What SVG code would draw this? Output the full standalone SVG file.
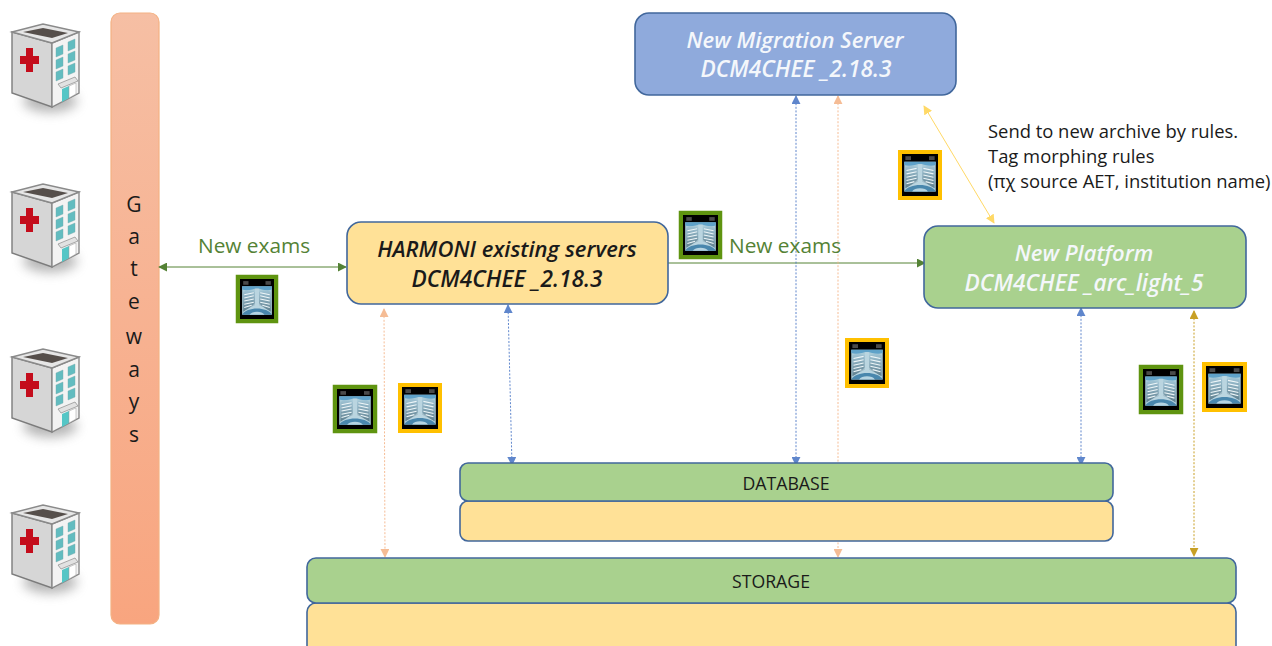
<svg xmlns="http://www.w3.org/2000/svg" width="1272" height="646" viewBox="0 0 1272 646">
<style>
text{font-family:"Open Sans","Noto Sans","Liberation Sans",sans-serif;fill:#1a1a1a}
.box{stroke:#41679c;stroke-width:1.6}
.g{fill:#a9d18e}.y{fill:#ffe197}
.title{font-size:22px;font-style:italic;font-weight:600;text-anchor:middle}
.dcm{font-size:22.7px}
text.w{fill:#f4f7fb}
.lab{font-size:17.7px;text-anchor:middle}
text.ne{font-size:20.8px;fill:#548235}
.note{font-size:18.4px}
.l{fill:none;stroke-width:1}
.d{stroke-dasharray:2 1.6;opacity:.85}
</style>
<defs>
<linearGradient id="gw" x1="0" y1="0" x2="0" y2="1"><stop offset="0" stop-color="#f6bfa4"/><stop offset="1" stop-color="#f8a57f"/></linearGradient>
<filter id="soft" x="-10%" y="-10%" width="120%" height="120%"><feGaussianBlur stdDeviation="0.45"/></filter>
<filter id="shb" x="-40%" y="-60%" width="180%" height="220%"><feGaussianBlur stdDeviation="6"/></filter>
<linearGradient id="lung" x1="0" y1="0" x2="0" y2="1"><stop offset="0" stop-color="#9fc3d4"/><stop offset="1" stop-color="#5e7f8e"/></linearGradient>
<marker id="ab" viewBox="0 0 10 10" refX="9" refY="5" markerWidth="9" markerHeight="9" markerUnits="userSpaceOnUse" orient="auto-start-reverse"><path d="M0 0L10 5L0 10z" fill="#4472c4"/></marker>
<marker id="ao" viewBox="0 0 10 10" refX="9" refY="5" markerWidth="9" markerHeight="9" markerUnits="userSpaceOnUse" orient="auto-start-reverse"><path d="M0 0L10 5L0 10z" fill="#f4b183"/></marker>
<marker id="ag" viewBox="0 0 10 10" refX="9" refY="5" markerWidth="9" markerHeight="9" markerUnits="userSpaceOnUse" orient="auto-start-reverse"><path d="M0 0L10 5L0 10z" fill="#548235"/></marker>
<marker id="ad" viewBox="0 0 10 10" refX="9" refY="5" markerWidth="9" markerHeight="9" markerUnits="userSpaceOnUse" orient="auto-start-reverse"><path d="M0 0L10 5L0 10z" fill="#bf9000"/></marker>
<marker id="ay" viewBox="0 0 10 10" refX="9" refY="5" markerWidth="9" markerHeight="9" markerUnits="userSpaceOnUse" orient="auto-start-reverse"><path d="M0 0L10 5L0 10z" fill="#ffd966"/></marker>
<symbol id="hospital" width="100" height="125" viewBox="0 0 100 125">
<ellipse cx="50" cy="101" rx="27" ry="11" fill="#777" opacity=".55" filter="url(#shb)"/>
<g filter="url(#soft)">
<path d="M12 32L52 43V107L12 93z" fill="#d6d6d6" stroke="#7c7c7c" stroke-width="1.4"/>
<path d="M52 43L79 32V93L52 107z" fill="#f3f3f3" stroke="#8a8a8a" stroke-width="1.4"/>
<path d="M12 32L43 24L79 32L52 43z" fill="#e6e6e6" stroke="#8a8a8a" stroke-width="1.4"/>
<path d="M23 32L43 28L68 33L52 38z" fill="#57504c"/>
<path d="M26 48h7v8h6v8h-6v8h-7v-8h-6v-8h6z" fill="#c4101a"/>
<g fill="#62bcc0" stroke="#7aa" stroke-width=".4">
<path d="M56 48l7-3v9l-7 3zM68 42l7-3v9l-7 3zM56 60l7-3v9l-7 3zM68 54l7-3v9l-7 3zM56 72l7-3v9l-7 3zM68 66l7-3v9l-7 3z"/>
</g>
<path d="M58 84l17-7 3 4-17 7z" fill="#e2e2e2" stroke="#8a8a8a" stroke-width=".7"/>
<path d="M62 89l7-3v12l-7 4z" fill="#55c6c6"/>
<path d="M69 86l7-3v11l-7 4z" fill="#fff" stroke="#999" stroke-width=".5"/>
</g>
</symbol>
<symbol id="xray" viewBox="0 0 32 38" preserveAspectRatio="none">
<rect width="32" height="38" fill="#000"/>
<g filter="url(#soft)">
<rect x="2" y="7" width="28" height="27" fill="#a9cbd8"/>
<path d="M2 7H30V10C24 12 20 9 16 9S8 12 2 10z" fill="#5fa2c9"/>
<path d="M3 12C7 10 11 11 14 12V25C10 27 6 29 3 31zM29 12C25 10 21 11 18 12V25C22 27 26 29 29 31z" fill="url(#lung)"/>
<g stroke="#eef6f8" stroke-width="1" fill="none"><path d="M4 15l9-2M4 18l9-2M4 21l9-2M4 24l9-2M4 27l7-2M28 15l-9-2M28 18l-9-2M28 21l-9-2M28 24l-9-2M28 27l-7-2"/></g>
<path d="M14 9h4v14c3 3 6 5 10 8H4c4-3 7-5 10-8z" fill="#c8dfe7" opacity=".55"/>
<path d="M2 34C6 26 26 26 30 34z" fill="#4a87ad"/>
<path d="M9 34C11 30 21 30 23 34z" fill="#b5d4e2"/>
</g>
<rect x="3" y="2" width="5" height="3.5" fill="#4a4a4a"/><rect x="24" y="2" width="5" height="3.5" fill="#4a4a4a"/>
</symbol>
</defs>

<g id="hospital-1"><use href="#hospital" x="0" y="0"/></g>
<g id="hospital-2"><use href="#hospital" x="0" y="160"/></g>
<g id="hospital-3"><use href="#hospital" x="0" y="325"/></g>
<g id="hospital-4"><use href="#hospital" x="0" y="481"/></g>

<g id="gateways">
<rect x="111" y="13" width="48" height="611" rx="9" fill="url(#gw)" stroke="#f4b183" stroke-width="1.2"/>
<g font-size="21" text-anchor="middle"><text x="134" y="212">G</text><text x="134" y="244">a</text><text x="134" y="276">t</text><text x="134" y="309">e</text><text x="134" y="344">w</text><text x="134" y="377">a</text><text x="134" y="409">y</text><text x="134" y="442">s</text></g>
</g>

<g id="connectors">
<path class="l" stroke="#548235" marker-start="url(#ag)" marker-end="url(#ag)" d="M159 267H346"/>
<path class="l" stroke="#548235" marker-end="url(#ag)" d="M668 263H925"/>
<path class="l d" stroke="#f4b183" marker-start="url(#ao)" marker-end="url(#ao)" d="M384 309L385 557"/>
<path class="l d" stroke="#4472c4" marker-start="url(#ab)" marker-end="url(#ab)" d="M508 305L512 465"/>
<path class="l d" stroke="#4472c4" marker-start="url(#ab)" marker-end="url(#ab)" d="M796 96V465"/>
<path class="l d" stroke="#f4b183" marker-start="url(#ao)" marker-end="url(#ao)" d="M838 96V557"/>
<path class="l d" stroke="#4472c4" marker-start="url(#ab)" marker-end="url(#ab)" d="M1081 308V465"/>
<path class="l d" stroke="#bf9000" marker-start="url(#ad)" marker-end="url(#ad)" d="M1194 311V556"/>
<path class="l" stroke="#ffd966" marker-start="url(#ay)" marker-end="url(#ay)" d="M924 106L994 223"/>
</g>

<g id="migration-server">
<rect class="box" x="635" y="13" width="321" height="82" rx="14" fill="#8faadc"/>
<text class="title w" x="795" y="48">New Migration Server</text>
<text class="title w dcm" x="796" y="77">DCM4CHEE _2.18.3</text>
</g>
<g id="harmoni">
<rect class="box y" x="347" y="222" width="321" height="82" rx="14"/>
<text class="title" x="507" y="257">HARMONI existing servers</text>
<text class="title dcm" x="507" y="287">DCM4CHEE _2.18.3</text>
</g>
<g id="new-platform">
<rect class="box g" x="924" y="226" width="322" height="82" rx="14"/>
<text class="title w" x="1084" y="261">New Platform</text>
<text class="title w dcm" x="1084" y="291">DCM4CHEE _arc_light_5</text>
</g>
<g id="database">
<rect class="box y" x="460" y="501" width="653" height="40" rx="8"/>
<rect class="box g" x="460" y="463" width="653" height="38" rx="8"/>
<text class="lab" x="786" y="490">DATABASE</text>
</g>
<g id="storage">
<rect class="box y" x="307" y="603" width="929" height="60" rx="9"/>
<rect class="box g" x="307" y="558" width="929" height="45" rx="9"/>
<text class="lab" x="771" y="588">STORAGE</text>
</g>

<g id="labels">
<text class="ne" x="198" y="253">New exams</text>
<text class="ne" x="729" y="253">New exams</text>
<text class="note" x="988" y="138">Send to new archive by rules.</text>
<text class="note" x="988" y="163">Tag morphing rules</text>
<text class="note" x="988" y="188">(πχ source AET, institution name)</text>
</g>

<g id="xrays">
<g fill="none" stroke="#5f9410" stroke-width="4.5">
<rect x="238" y="277" width="38" height="44"/><rect x="681" y="213" width="39" height="44"/><rect x="335" y="387" width="40" height="44"/><rect x="1141" y="367" width="40" height="45"/>
</g>
<g fill="none" stroke="#ffc000" stroke-width="4">
<rect x="900" y="152" width="40" height="46"/><rect x="400" y="385" width="40" height="46"/><rect x="847" y="340" width="40" height="46"/><rect x="1204" y="364" width="41" height="46"/>
</g>
<use href="#xray" x="240" y="279" width="34" height="40"/>
<use href="#xray" x="683" y="215" width="35" height="40"/>
<use href="#xray" x="337" y="389" width="36" height="40"/>
<use href="#xray" x="1143" y="369" width="36" height="41"/>
<use href="#xray" x="902" y="154" width="36" height="42"/>
<use href="#xray" x="402" y="387" width="36" height="42"/>
<use href="#xray" x="849" y="342" width="36" height="42"/>
<use href="#xray" x="1206" y="366" width="37" height="42"/>
</g>
</svg>
